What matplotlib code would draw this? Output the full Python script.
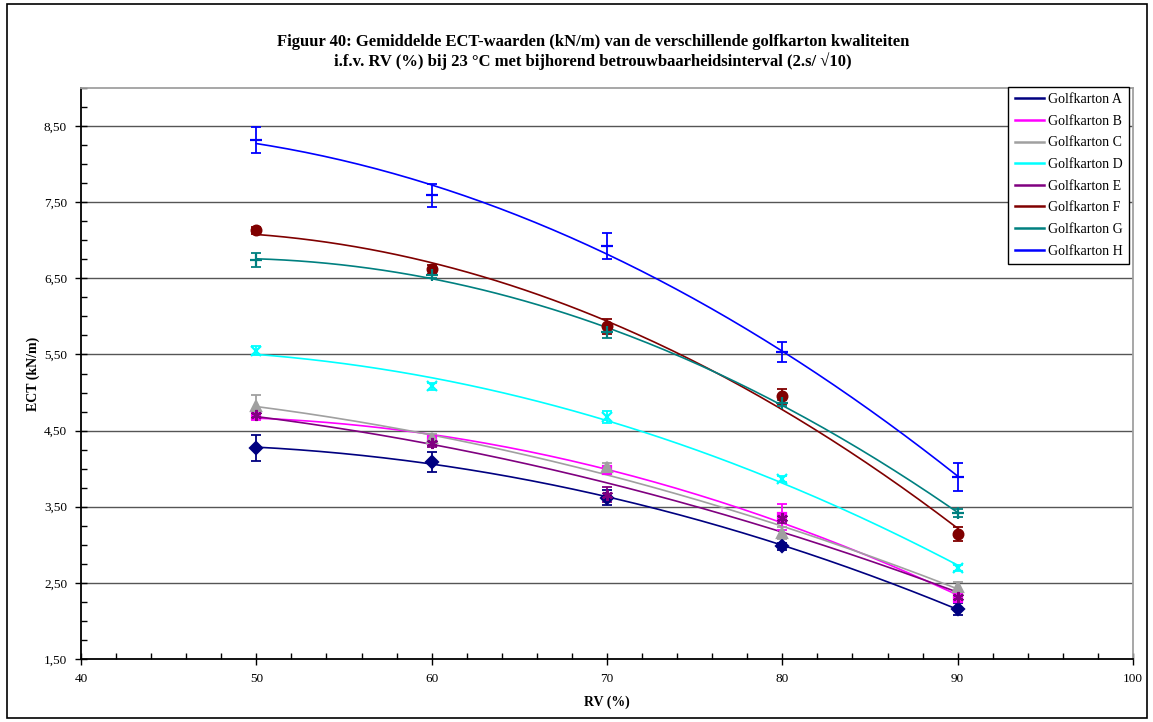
import numpy as np
import matplotlib
matplotlib.use("Agg")
import matplotlib.pyplot as plt
from matplotlib.ticker import FixedLocator, MultipleLocator, FuncFormatter
from matplotlib.lines import Line2D
from matplotlib.patches import Rectangle

plt.rcParams['font.family'] = ['Liberation Serif', 'DejaVu Serif']

# Relative humidity (%) at which the ECT was measured
rv = [50, 60, 70, 80, 90]

labels = ["Golfkarton A", "Golfkarton B", "Golfkarton C", "Golfkarton D",
          "Golfkarton E", "Golfkarton F", "Golfkarton G", "Golfkarton H"]

# Mean ECT values (kN/m)
ect_a = [4.27, 4.09, 3.62, 2.98, 2.16]
ect_b = [4.70, 4.38, 3.98, 3.37, 2.30]
ect_c = [4.82, 4.40, 4.02, 3.15, 2.45]
ect_d = [5.55, 5.08, 4.68, 3.86, 2.70]
ect_e = [4.70, 4.34, 3.66, 3.35, 2.31]
ect_f = [7.13, 6.62, 5.87, 4.95, 3.14]
ect_g = [6.74, 6.55, 5.79, 4.86, 3.42]
ect_h = [8.32, 7.59, 6.93, 5.53, 3.89]

# Confidence interval half-widths (2.s/sqrt(10))
ci_a = [0.17, 0.13, 0.10, 0.05, 0.08]
ci_b = [0.06, 0.05, 0.05, 0.17, 0.05]
ci_c = [0.15, 0.05, 0.06, 0.08, 0.06]
ci_d = [0.06, 0.05, 0.08, 0.04, 0.04]
ci_e = [0.05, 0.06, 0.10, 0.06, 0.04]
ci_f = [0.05, 0.06, 0.10, 0.10, 0.09]
ci_g = [0.09, 0.04, 0.07, 0.04, 0.05]
ci_h = [0.17, 0.15, 0.17, 0.13, 0.18]

means = [ect_a, ect_b, ect_c, ect_d, ect_e, ect_f, ect_g, ect_h]
cis = [ci_a, ci_b, ci_c, ci_d, ci_e, ci_f, ci_g, ci_h]

colors = ["#000080", "#FF00FF", "#A0A0A0", "#00FFFF",
          "#800080", "#800000", "#008080", "#0000FF"]
markers = ["D", "s", "^", "x", (6, 2, 0), "o", "+", "_"]
msizes = [6, 6, 7, 7, 8, 7, 8, 9]

fig = plt.figure(figsize=(11.53, 7.22), dpi=100)
ax = fig.add_axes([81 / 1153, 1 - 659 / 722, (1133 - 81) / 1153, (659 - 88) / 722])

# horizontal gridlines at the major y ticks
yt = np.arange(1.5, 9.0, 1.0)
for y in yt[1:]:
    ax.axhline(y, color="#555555", lw=1.0, zorder=1)

xs = np.linspace(50, 90, 200)
for m, e, c, mk, ms in zip(means, cis, colors, markers, msizes):
    coef = np.polyfit(rv, m, 2)
    ax.plot(xs, np.polyval(coef, xs), color=c, lw=1.2, zorder=3)
    ax.errorbar(rv, m, yerr=e, fmt="none", ecolor=c, elinewidth=1.3,
                capsize=3.5, capthick=1.3, zorder=4)
    ax.plot(rv, m, linestyle="none", marker=mk, color=c, markersize=ms,
            markeredgewidth=1.6, zorder=5)

ax.set_xlim(40, 100)
ax.set_ylim(1.5, 9.0)
ax.xaxis.set_major_locator(MultipleLocator(10))
ax.xaxis.set_minor_locator(MultipleLocator(2))
ax.yaxis.set_major_locator(FixedLocator(yt))
ax.yaxis.set_minor_locator(MultipleLocator(0.25))
ax.yaxis.set_major_formatter(FuncFormatter(lambda v, p: f"{v:.2f}".replace(".", ",")))
ax.xaxis.set_major_formatter(FuncFormatter(lambda v, p: f"{v:.0f}"))

ax.tick_params(axis="both", which="major", direction="inout", length=8, width=1,
               labelsize=9.5, colors="black", pad=6)
ax.tick_params(axis="both", which="minor", direction="in", length=4, width=1)

for s in ["left", "bottom"]:
    ax.spines[s].set_color("black")
    ax.spines[s].set_linewidth(1.3)
for s in ["top", "right"]:
    ax.spines[s].set_color("#A0A0A0")
    ax.spines[s].set_linewidth(1.3)

ax.set_xlabel("RV (%)", fontsize=10, fontweight="bold", labelpad=8)
ax.set_ylabel("ECT (kN/m)", fontsize=10, fontweight="bold", labelpad=3)

fig.text(593 / 1153, 1 - 52 / 722,
         "Figuur 40: Gemiddelde ECT-waarden (kN/m) van de verschillende golfkarton kwaliteiten\n"
         "i.f.v. RV (%) bij 23 °C met bijhorend betrouwbaarheidsinterval (2.s/ \u221a10)",
         ha="center", va="center", fontsize=12, fontweight="bold", linespacing=1.15)

handles = [Line2D([0], [0], color=c, lw=1.8) for c in colors]
leg = ax.legend(handles, labels, loc="upper right", bbox_to_anchor=(1129 / 1153, 1 - 87 / 722),
                bbox_transform=fig.transFigure, fontsize=10, frameon=True, fancybox=False,
                edgecolor="black", framealpha=1, handlelength=2.1, handletextpad=0.3,
                labelspacing=0.62, borderpad=0.45, borderaxespad=0)
leg.get_frame().set_linewidth(1.0)
leg.set_zorder(10)

# outer frame of the chart
fig.patches.append(Rectangle((7 / 1153, 4 / 722), 1140 / 1153, 714 / 722,
                             transform=fig.transFigure, fill=False,
                             edgecolor="black", lw=1.2))

fig.savefig("out.png", dpi=100)
